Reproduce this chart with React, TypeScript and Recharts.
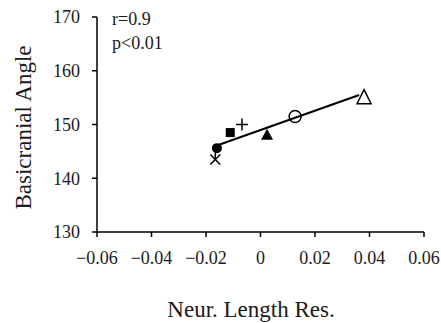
import React from 'react';
import { ScatterChart, Scatter, XAxis, YAxis, ReferenceLine, Customized } from 'recharts';

const xValues = [-0.016, -0.0166, -0.0111, -0.0068, 0.0024, 0.0127, 0.038];
const yValues = [145.6, 143.5, 148.5, 150.0, 148.1, 151.5, 155.0];
const markers = ['filledCircle', 'star', 'filledSquare', 'plus', 'filledTriangle', 'openCircle', 'openTriangle'];
const fitLineX = [-0.0165, 0.0362];
const fitLineY = [146.0, 155.5];
const xTicks = [-0.06, -0.04, -0.02, 0, 0.02, 0.04, 0.06];
const yTicks = [130, 140, 150, 160, 170];
const statsText = ['r=0.9', 'p<0.01'];
const xTitle = 'Neur. Length Res.';
const yTitle = 'Basicranial Angle';

const data = xValues.map((x, i) => ({ x, y: yValues[i], marker: markers[i] }));
const segment = [
  { x: fitLineX[0], y: fitLineY[0] },
  { x: fitLineX[1], y: fitLineY[1] },
];

const FONT = '"Liberation Serif", "Times New Roman", Times, serif';
const INK = '#1a1a1a';

const MarkerShape = (props: any) => {
  const { cx, cy, payload } = props;
  const m = payload.marker;
  switch (m) {
    case 'filledCircle':
      return <circle cx={cx} cy={cy} r={5} fill="#000" />;
    case 'star':
      return (
        <g stroke="#000" strokeWidth={1.5}>
          <line x1={cx - 5} y1={cy - 5} x2={cx + 5} y2={cy + 5} />
          <line x1={cx - 5} y1={cy + 5} x2={cx + 5} y2={cy - 5} />
          <line x1={cx} y1={cy - 7} x2={cx} y2={cy} />
        </g>
      );
    case 'filledSquare':
      return <rect x={cx - 4.5} y={cy - 4.5} width={9} height={9} fill="#000" />;
    case 'plus':
      return (
        <g stroke="#000" strokeWidth={1.5}>
          <line x1={cx - 6} y1={cy} x2={cx + 6} y2={cy} />
          <line x1={cx} y1={cy - 6} x2={cx} y2={cy + 6} />
        </g>
      );
    case 'filledTriangle':
      return <polygon points={`${cx},${cy - 6} ${cx + 6},${cy + 5} ${cx - 6},${cy + 5}`} fill="#000" />;
    case 'openCircle':
      return <circle cx={cx} cy={cy} r={6} fill="none" stroke="#000" strokeWidth={1.5} />;
    case 'openTriangle':
      return (
        <polygon
          points={`${cx},${cy - 8} ${cx + 7},${cy + 6} ${cx - 7},${cy + 6}`}
          fill="#fff"
          stroke="#000"
          strokeWidth={1.5}
        />
      );
    default:
      return null;
  }
};

const fmt = (v: number) => {
  if (v === 0) return '0';
  const s = Math.abs(v).toFixed(2);
  return v < 0 ? '\u2212' + s : s;
};

const textStyle = { fontFamily: FONT };

const Annotations = () => (
  <g fill={INK}>
    <text x={112} y={25} fontSize={18} style={textStyle}>{statsText[0]}</text>
    <text x={112} y={48.5} fontSize={18} style={textStyle}>{statsText[1]}</text>
    <text x={251} y={317} fontSize={23} textAnchor="middle" style={textStyle}>{xTitle}</text>
    <text x={31} y={127.5} fontSize={23} textAnchor="middle" transform="rotate(-90 31 127.5)" style={textStyle}>
      {yTitle}
    </text>
  </g>
);

const tickProps = { fill: INK, fontSize: 18, fontFamily: FONT, style: textStyle };

export default function App() {
  return (
    <div style={{ position: 'absolute', left: 0, top: 0, background: '#fff', fontFamily: FONT }}>
      <ScatterChart width={441} height={323} margin={{ top: 17, right: 17, left: 0, bottom: 0 }} style={textStyle}>
        <XAxis
          type="number"
          dataKey="x"
          domain={[-0.06, 0.06]}
          ticks={xTicks}
          tickFormatter={fmt}
          height={91}
          tickSize={5}
          tickMargin={14}
          stroke="#000"
          strokeWidth={1.5}
          tick={tickProps}
          interval={0}
          allowDataOverflow
        />
        <YAxis
          type="number"
          dataKey="y"
          domain={[130, 170]}
          ticks={yTicks}
          width={97}
          tickSize={5}
          tickMargin={12}
          stroke="#000"
          strokeWidth={1.5}
          tick={tickProps}
          interval={0}
          allowDataOverflow
        />
        <ReferenceLine segment={segment} stroke="#000" strokeWidth={2} ifOverflow="visible" />
        <Scatter data={data} shape={MarkerShape} isAnimationActive={false} />
        <Customized component={Annotations} />
      </ScatterChart>
    </div>
  );
}
